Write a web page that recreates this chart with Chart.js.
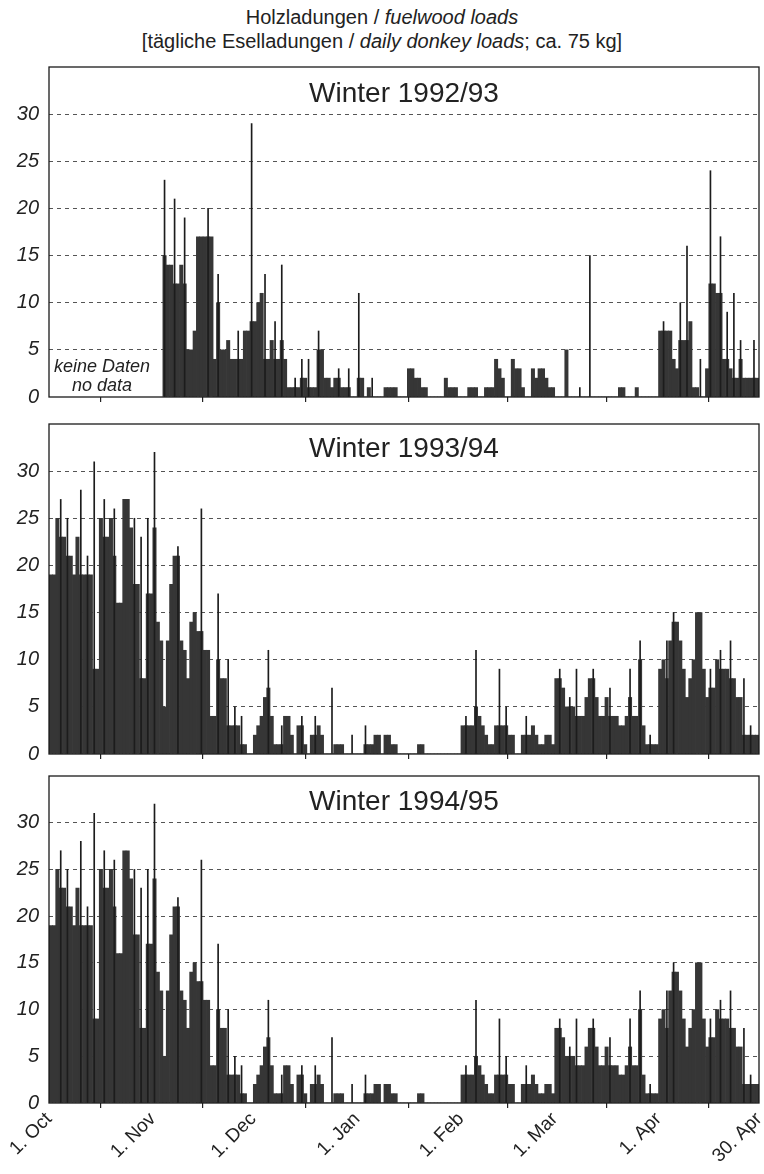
<!DOCTYPE html>
<html>
<head>
<meta charset="utf-8">
<script src="https://cdn.jsdelivr.net/npm/chart.js@4.4.1/dist/chart.umd.min.js"></script>
<style>
  body { margin: 0; background: #fff; width: 764px; height: 1174px; position: relative; overflow: hidden;
         font-family: "Liberation Sans", Arial, sans-serif; color: #222; }
  #title { position: absolute; left: 0; top: 5px; width: 764px; text-align: center; font-size: 20px; line-height: 24px; }
  .panel { position: absolute; left: 0; width: 764px; }
</style>
</head>
<body>
<div id="title">Holzladungen / <i>fuelwood loads</i><br>[tägliche Eselladungen / <i>daily donkey loads</i>; ca. 75 kg]</div>
<div class="panel" style="top:60px"><canvas id="c1" width="764" height="345"></canvas></div>
<div class="panel" style="top:415px"><canvas id="c2" width="764" height="348"></canvas></div>
<div class="panel" style="top:766px"><canvas id="c3" width="764" height="408"></canvas></div>

<script>
// x axis: days since 1 Oct (212 days to end of April)
const monthTicks = [0, 31, 61, 92, 123, 151, 182, 212];
const monthLabels = ["1. Oct", "1. Nov", "1. Dec", "1. Jan", "1. Feb", "1. Mar", "1. Apr", "30. Apr"];
const yTicks = [0, 5, 10, 15, 20, 25, 30];

// daily donkey loads, winter 1992/93 (no data before 4 Nov)
const loads9293 = [
  null,null,null,null,null,null,null,null,null,null,null,null,null,null,null,null,null,null,null,null,null,null,null,null,null,null,null,null,null,null,null, // Oct
  null,null,null,15,14,14,12,12,14,12,5,5,7,17,17,17,17,17,4,10,5,5,6,4,4,4,4,7,7,8,            // Nov
  8,10,11,4,4,6,4,4,6,4,1,1,1,1,2,2,1,1,1,5,5,2,2,1,2,2,1,1,1,0,0,                              // Dec
  2,2,0,1,0,0,0,0,1,1,1,1,0,0,0,3,3,2,2,1,1,0,0,0,0,0,2,1,1,1,0,                                // Jan
  0,0,1,1,1,0,0,1,1,1,4,3,2,0,0,4,3,3,1,0,0,3,2,3,3,2,1,1,                                      // Feb
  0,0,0,5,0,0,0,0,0,0,0,0,0,0,0,0,0,0,0,1,1,0,0,0,1,0,0,0,0,0,0,                                // Mar
  7,7,7,7,4,3,6,6,6,8,1,1,0,0,3,12,12,11,11,4,4,3,2,2,4,2,2,2,2,2                               // Apr
];
// single-day peaks drawn as thin lines: [day index, loads]
const peaks9293 = [
  [34,23],[37,21],[40,19],[47,20],[50,13],[56,7],[60,29],[64,13],[67,8],[69,14],[73,2],[75,4],
  [77,4],[80,7],[86,3],[89,3],[92,11],[96,2],[158,1],[161,15],[183,8],[188,10],[190,16],[194,4],
  [197,24],[200,17],[202,9],[204,11],[206,6],[210,6]
];

// winter 1993/94
const loads9394 = [
  19,19,25,23,23,21,21,19,23,19,19,19,19,9,9,25,23,23,25,21,16,16,27,27,24,18,18,8,8,17,17,     // Oct
  24,14,12,5,12,18,21,21,12,11,8,14,15,13,13,11,11,4,4,10,8,8,3,3,3,3,1,1,0,0,                  // Nov
  2,3,4,6,7,4,1,1,1,4,4,2,0,3,3,1,0,2,2,3,2,0,0,0,1,1,1,0,0,0,0,                                // Dec
  0,0,1,1,1,2,2,0,2,2,1,1,0,0,0,0,0,0,1,1,0,0,0,0,0,0,0,0,0,0,0,                                // Jan
  3,3,3,3,5,4,3,2,1,1,3,3,3,3,2,2,0,0,2,2,2,3,2,1,1,2,2,1,                                      // Feb
  8,8,7,5,5,5,4,4,4,6,8,8,6,4,4,6,4,4,4,3,3,4,6,4,4,10,3,1,1,1,1,                               // Mar
  9,10,8,12,14,14,12,9,6,8,10,15,15,9,6,7,7,10,9,9,9,8,8,6,6,2,2,2,2,2                          // Apr
];
const peaks9394 = [
  [3,27],[5,25],[9,28],[11,21],[13,31],[16,27],[19,26],[25,25],[27,23],[29,25],[31,32],[38,22],
  [45,26],[50,17],[53,10],[55,5],[57,4],[65,11],[69,3],[75,4],[79,4],[84,7],[90,2],[94,3],
  [124,4],[127,11],[134,9],[136,5],[142,4],[152,9],[155,6],[157,9],[162,9],[167,7],[173,9],
  [176,12],[179,2],[184,12],[186,15],[197,9],[200,11],[203,12],[207,8],[209,3]
];

// winter 1994/95 (the source figure prints the same daily values as 1993/94)
const loads9495 = loads9394;
const peaks9495 = peaks9394;

const barColor = "#363636";
const spikeColor = "#1c1c1c";

Chart.defaults.font.family = '"Liberation Sans", Arial, sans-serif';
Chart.defaults.color = "#222";

// frame, panel title and notes
const framePlugin = {
  id: "frame",
  afterDraw(chart, args, opts) {
    const { ctx, chartArea: a } = chart;
    ctx.save();
    ctx.strokeStyle = "#1a1a1a";
    ctx.lineWidth = 1.3;
    ctx.strokeRect(a.left, a.top, a.right - a.left, a.bottom - a.top);
    ctx.fillStyle = "#222";
    ctx.textAlign = "center";
    ctx.font = '28px "Liberation Sans", Arial, sans-serif';
    ctx.fillText(opts.title, (a.left + a.right) / 2, a.top + opts.titleY);
    if (opts.note) {
      ctx.font = 'italic 18px "Liberation Sans", Arial, sans-serif';
      ctx.fillText(opts.note[0], 102, a.bottom - 25);
      ctx.fillText(opts.note[1], 102, a.bottom - 6);
    }
    ctx.restore();
  }
};

function makePanel(id, title, loads, peaks, padTop, xHeight, showLabels, titleY, note) {
  new Chart(document.getElementById(id), {
    type: "bar",
    data: {
      datasets: [
        {
          data: peaks.map(p => ({ x: p[0] + 0.5, y: p[1] })),
          backgroundColor: spikeColor,
          barThickness: 1,
          grouped: false,
          order: 1
        },
        {
          data: loads.map((v, i) => ({ x: i + 0.5, y: v })),
          backgroundColor: barColor,
          borderWidth: 0,
          barPercentage: 1,
          categoryPercentage: 1,
          grouped: false,
          order: 2
        }
      ]
    },
    options: {
      responsive: false,
      animation: false,
      layout: { padding: { top: padTop, right: 5, left: 0, bottom: 0 } },
      plugins: {
        legend: { display: false },
        tooltip: { enabled: false },
        frame: { title: title, titleY: titleY, note: note }
      },
      scales: {
        x: {
          type: "linear",
          min: 0,
          max: 212,
          offset: false,
          afterBuildTicks: s => { s.ticks = monthTicks.map(v => ({ value: v })); },
          afterFit: s => { s.height = xHeight; s.paddingLeft = 0; s.paddingRight = 0; },
          grid: { drawOnChartArea: false, drawTicks: true, tickLength: 5, color: "#222", lineWidth: 1.2 },
          border: { display: false },
          ticks: {
            display: showLabels,
            autoSkip: false,
            minRotation: 45,
            maxRotation: 45,
            padding: 0,
            font: { size: 19 },
            color: "#222",
            callback: v => monthLabels[monthTicks.indexOf(v)]
          }
        },
        y: {
          min: 0,
          max: 35,
          afterBuildTicks: s => { s.ticks = yTicks.map(v => ({ value: v })); },
          afterFit: s => { s.width = 49; s.paddingTop = 0; s.paddingBottom = 0; },
          grid: {
            drawTicks: false,
            lineWidth: 1,
            color: c => (c.tick && c.tick.value === 0) ? "rgba(0,0,0,0)" : "#555"
          },
          border: { display: false, dash: [4, 4] },
          ticks: { padding: 10, font: { size: 20, style: "italic" }, color: "#222" }
        }
      }
    },
    plugins: [framePlugin]
  });
}

makePanel("c1", "Winter 1992/93", loads9293, peaks9293, 7, 8, false, 35, ["keine Daten", "no data"]);
makePanel("c2", "Winter 1993/94", loads9394, peaks9394, 9, 9, false, 33, null);
makePanel("c3", "Winter 1994/95", loads9495, peaks9495, 10, 71, true, 34, null);
</script>
</body>
</html>
